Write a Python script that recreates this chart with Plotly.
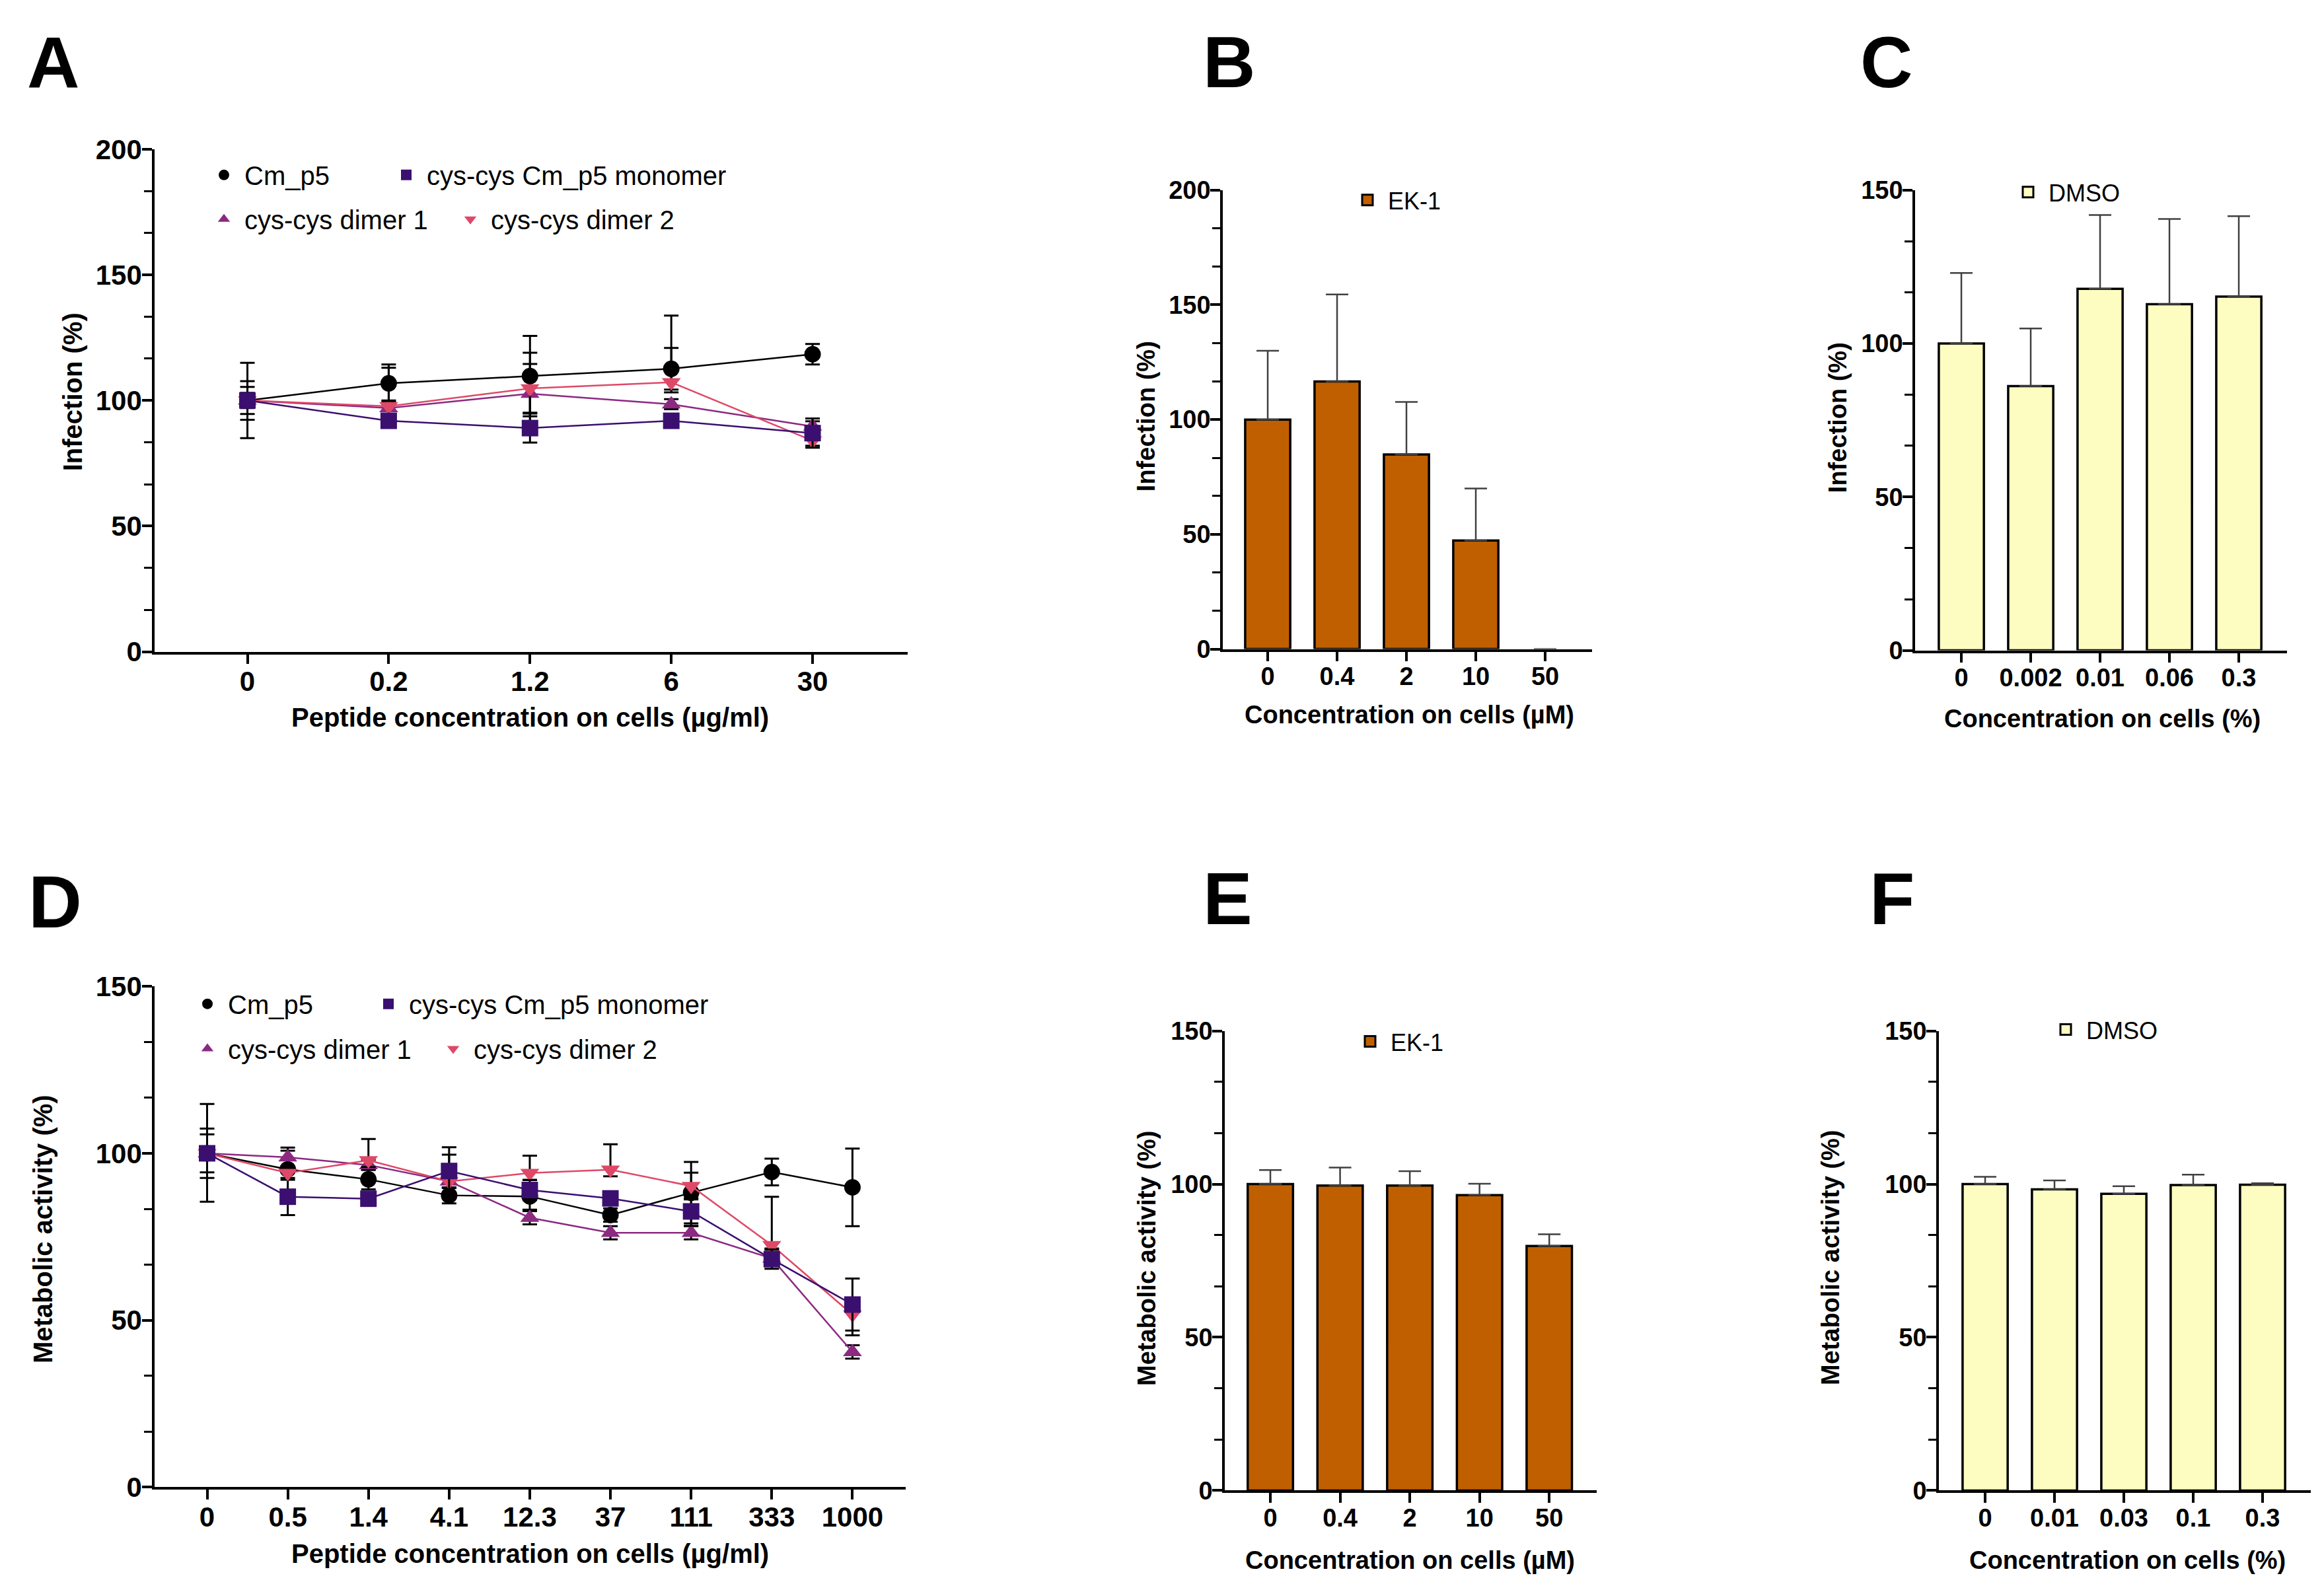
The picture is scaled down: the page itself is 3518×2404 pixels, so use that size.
import plotly.graph_objects as go

# ---------------- DATA ----------------
# Panel A: Infection (%) vs peptide concentration (ug/ml)
a_cats = ["0", "0.2", "1.2", "6", "30"]
a_cm_p5 = [100, 106.8, 109.7, 112.6, 118.4]
a_cm_p5_ep = [15, 7.5, 16, 8.3, 4.1]
a_cm_p5_em = [15, 7.3, 16, 8.3, 4.1]
a_mono = [100, 91.9, 89.0, 91.9, 87.0]
a_mono_ep = [7.7, 2, 5.8, 1.5, 5.8]
a_mono_em = [7.7, 2, 5.8, 1.5, 5.8]
a_dim1 = [100, 97.0, 102.7, 98.5, 89.7]
a_dim1_ep = [5.4, 3, 16.3, 2, 2]
a_dim1_em = [5.4, 3, 16.3, 2, 2]
a_dim2 = [100, 97.7, 104.8, 107.2, 84.0]
a_dim2_ep = [3, 15.3, 9.7, 26.6, 2]
a_dim2_em = [3, 3, 9.7, 4, 2]

# Panel B: EK-1 infection
b_cats = ["0", "0.4", "2", "10", "50"]
b_vals = [100, 116.6, 84.8, 47.3, 0]
b_err = [30, 37.9, 22.9, 22.7, 0]

# Panel C: DMSO infection
c_cats = ["0", "0.002", "0.01", "0.06", "0.3"]
c_vals = [100, 86.1, 117.8, 112.8, 115.3]
c_err = [23, 18.8, 24.1, 27.8, 26.2]

# Panel D: Metabolic activity (%) vs peptide concentration (ug/ml)
d_cats = ["0", "0.5", "1.4", "4.1", "12.3", "37", "111", "333", "1000"]
d_cm_p5 = [100, 95.2, 92.2, 87.4, 87.1, 81.5, 88.2, 94.4, 89.8]
d_cm_p5_ep = [14.8, 6.5, 3, 2.4, 4, 2, 9.2, 4, 11.6]
d_cm_p5_em = [14.5, 6.5, 3, 2.4, 4, 2, 9.2, 4, 11.6]
d_mono = [100, 87.0, 86.4, 94.7, 89.0, 86.5, 82.6, 68.3, 54.7]
d_mono_ep = [7.4, 2, 1.5, 7.1, 3, 2, 4, 2.9, 7.8]
d_mono_em = [7.4, 5.5, 1.5, 7.1, 3, 2, 4.3, 2.9, 7.8]
d_dim1 = [100, 98.8, 96.5, 91.6, 80.7, 76.2, 76.2, 68.5, 40.5]
d_dim1_ep = [5.7, 2, 1.5, 2, 2, 2, 2, 2, 2]
d_dim1_em = [5.7, 6.2, 1.5, 2, 2, 2, 2, 2, 2]
d_dim2 = [100, 94.1, 97.9, 91.6, 94.1, 95.1, 90.2, 72.5, 51.7]
d_dim2_ep = [2, 2, 6.4, 8, 5.2, 7.6, 4, 14.5, 3]
d_dim2_em = [2, 2, 2, 2, 2, 2, 4, 1, 6.2]

# Panel E: EK-1 metabolic activity
e_cats = ["0", "0.4", "2", "10", "50"]
e_vals = [100, 99.5, 99.5, 96.4, 79.8]
e_err = [4.6, 5.9, 4.7, 3.7, 3.8]

# Panel F: DMSO metabolic activity
f_cats = ["0", "0.01", "0.03", "0.1", "0.3"]
f_vals = [100, 98.3, 96.8, 99.7, 99.8]
f_err = [2.4, 2.9, 2.5, 3.4, 0.5]

# ---------------- STYLE ----------------
FONT = "Liberation Sans"
C_CM = "#000000"
C_MONO = "#3B0F70"
C_DIM1 = "#8C2981"
C_DIM2 = "#DE4968"
C_EK1 = "#C05F00"
C_DMSO = "#FDFDC2"
W, H = 3518, 2404


def px(x):
    return (x - 6) / W


def py(y):
    return 1 - (y * 1.0182 - 28.3) / H


fig = go.Figure()


def line_trace(cats, vals, ep, em, name, color, symbol, xa, ya):
    return go.Scatter(
        x=cats, y=vals, name=name, mode="lines+markers", showlegend=False,
        line=dict(color=color, width=2.5),
        marker=dict(color=color, symbol=symbol, size=25, line=dict(width=0)),
        error_y=dict(type="data", array=ep, arrayminus=em, symmetric=False,
                     color="black", thickness=3, width=11),
        xaxis=xa, yaxis=ya, cliponaxis=False,
    )


def legend_entry(name, color, symbol, xa, ya, legend, outline=0):
    return go.Scatter(
        x=[None], y=[None], name=name, mode="markers", showlegend=True,
        marker=dict(color=color, symbol=symbol, size=16,
                    line=dict(width=outline, color="black")),
        xaxis=xa, yaxis=ya, legend=legend, hoverinfo="skip",
    )


# Panel A traces
fig.add_trace(line_trace(a_cats, a_cm_p5, a_cm_p5_ep, a_cm_p5_em, "Cm_p5", C_CM, "circle", "x", "y"))
fig.add_trace(line_trace(a_cats, a_dim1, a_dim1_ep, a_dim1_em, "cys-cys dimer 1", C_DIM1, "triangle-up", "x", "y"))
fig.add_trace(line_trace(a_cats, a_dim2, a_dim2_ep, a_dim2_em, "cys-cys dimer 2", C_DIM2, "triangle-down", "x", "y"))
fig.add_trace(line_trace(a_cats, a_mono, a_mono_ep, a_mono_em, "cys-cys Cm_p5 monomer", C_MONO, "square", "x", "y"))
fig.add_trace(legend_entry("Cm_p5", C_CM, "circle", "x", "y", "legend"))
fig.add_trace(legend_entry("cys-cys Cm_p5 monomer", C_MONO, "square", "x", "y", "legend2"))
fig.add_trace(legend_entry("cys-cys dimer 1", C_DIM1, "triangle-up", "x", "y", "legend3"))
fig.add_trace(legend_entry("cys-cys dimer 2", C_DIM2, "triangle-down", "x", "y", "legend4"))

# Panel D traces
fig.add_trace(line_trace(d_cats, d_cm_p5, d_cm_p5_ep, d_cm_p5_em, "Cm_p5", C_CM, "circle", "x4", "y4"))
fig.add_trace(line_trace(d_cats, d_dim1, d_dim1_ep, d_dim1_em, "cys-cys dimer 1", C_DIM1, "triangle-up", "x4", "y4"))
fig.add_trace(line_trace(d_cats, d_dim2, d_dim2_ep, d_dim2_em, "cys-cys dimer 2", C_DIM2, "triangle-down", "x4", "y4"))
fig.add_trace(line_trace(d_cats, d_mono, d_mono_ep, d_mono_em, "cys-cys Cm_p5 monomer", C_MONO, "square", "x4", "y4"))
fig.add_trace(legend_entry("Cm_p5", C_CM, "circle", "x4", "y4", "legend5"))
fig.add_trace(legend_entry("cys-cys Cm_p5 monomer", C_MONO, "square", "x4", "y4", "legend6"))
fig.add_trace(legend_entry("cys-cys dimer 1", C_DIM1, "triangle-up", "x4", "y4", "legend7"))
fig.add_trace(legend_entry("cys-cys dimer 2", C_DIM2, "triangle-down", "x4", "y4", "legend8"))


def bar_trace(cats, vals, err, name, color, xa, ya):
    return go.Bar(
        x=cats, y=vals, name=name, width=0.65, showlegend=False,
        marker=dict(color=color,
                    line=dict(color="black", width=[3.5 if v > 0 else 0 for v in vals])),
        error_y=dict(type="data", array=err, arrayminus=[0] * len(err), symmetric=False,
                     color="#404040", thickness=2.5, width=17),
        xaxis=xa, yaxis=ya,
    )


fig.add_trace(bar_trace(b_cats, b_vals, b_err, "EK-1", C_EK1, "x2", "y2"))
fig.add_trace(bar_trace(c_cats, c_vals, c_err, "DMSO", C_DMSO, "x3", "y3"))
fig.add_trace(bar_trace(e_cats, e_vals, e_err, "EK-1", C_EK1, "x5", "y5"))
fig.add_trace(bar_trace(f_cats, f_vals, f_err, "DMSO", C_DMSO, "x6", "y6"))
fig.add_trace(legend_entry("EK-1", C_EK1, "square", "x2", "y2", "legend9", outline=3))
fig.add_trace(legend_entry("DMSO", C_DMSO, "square", "x3", "y3", "legend10", outline=3))
fig.add_trace(legend_entry("EK-1", C_EK1, "square", "x5", "y5", "legend11", outline=3))
fig.add_trace(legend_entry("DMSO", C_DMSO, "square", "x6", "y6", "legend12", outline=3))

# ---------------- AXES ----------------
panels = {
    # key: (xdomain px, ydomain px (top, bottom), xrange, yrange, tick font size)
    "1": ((232, 1372), (223, 985), [-0.657, 4.673], [0, 200], 42),
    "2": ((1849, 2408), (285, 981), [-0.648, 4.676], [0, 200], 38),
    "3": ((2897, 3460), (285, 983), [-0.667, 4.695], [0, 150], 38),
    "4": ((232, 1369), (1492.5, 2252), [-0.651, 8.66], [0, 150], 42),
    "5": ((1852, 2415), (1560, 2257), [-0.654, 4.68], [0, 150], 38),
    "6": ((2933, 3496), (1560, 2257), [-0.667, 4.695], [0, 150], 38),
}

axes = {}
for k, (xd, yd, xr, yr, fs) in panels.items():
    xname = "xaxis" if k == "1" else f"xaxis{k}"
    yname = "yaxis" if k == "1" else f"yaxis{k}"
    anchor_x = "x" if k == "1" else f"x{k}"
    anchor_y = "y" if k == "1" else f"y{k}"
    tickfont = dict(family=FONT, size=fs, color="black", weight="bold")
    axes[xname] = dict(
        domain=[px(xd[0]), px(xd[1])], anchor=anchor_y, type="category",
        range=xr, showline=True, linecolor="black", linewidth=3.5,
        ticks="outside", ticklen=15, tickwidth=3.5, tickcolor="black",
        ticklabelstandoff=-10,
        showgrid=False, zeroline=False, tickfont=tickfont, fixedrange=True,
    )
    axes[yname] = dict(
        domain=[py(yd[1]), py(yd[0])], anchor=anchor_x, range=yr,
        tickmode="linear", tick0=0, dtick=50,
        showline=True, linecolor="black", linewidth=3.5,
        ticks="outside", ticklen=15, tickwidth=3.5, tickcolor="black",
        ticklabelstandoff=-8,
        minor=dict(dtick=50 / 3, tick0=0, ticks="outside", ticklen=12,
                   tickwidth=3, tickcolor="black", showgrid=False),
        showgrid=False, zeroline=False, tickfont=tickfont, fixedrange=True,
    )
fig.update_layout(**axes)

# ---------------- LEGENDS ----------------
def legend_at(mx, my, size):
    return dict(x=px(mx - 36), y=py(my), xanchor="left", yanchor="middle",
                bgcolor="rgba(0,0,0,0)", borderwidth=0, itemwidth=52,
                font=dict(family=FONT, size=size, color="black"))


fig.update_layout(
    legend=legend_at(342, 262, 40),
    legend2=legend_at(618, 262, 40),
    legend3=legend_at(342, 329, 40),
    legend4=legend_at(715, 329, 40),
    legend5=legend_at(317, 1519, 40),
    legend6=legend_at(591, 1519, 40),
    legend7=legend_at(317, 1587, 40),
    legend8=legend_at(689, 1587, 40),
    legend9=legend_at(2073, 300, 36),
    legend10=legend_at(3073, 288, 36),
    legend11=legend_at(2077, 1576, 36),
    legend12=legend_at(3130, 1558, 36),
)

# ---------------- TEXT ----------------
annotations = []


def ann(text, x, y, size, angle=0, bold=True, top=False):
    annotations.append(dict(
        text=text, x=px(x), y=1 if top else py(y), xref="paper", yref="paper",
        xanchor="center", yanchor="top" if top else "middle", showarrow=False,
        textangle=angle, borderpad=0,
        font=dict(family=FONT, size=size, color="black", weight="bold" if bold else "normal"),
    ))


# panel letters (top row pinned to the top edge so they are not clipped)
ann("A", 78, 0, 110, top=True)
ann("B", 1859, 0, 110, top=True)
ann("C", 2853, 0, 110, top=True)
ann("D", 81, 1365, 112)
ann("E", 1856, 1360, 112)
ann("F", 2862, 1360, 112)

# axis titles
ann("Peptide concentration on cells (µg/ml)", 800, 1085, 40)
ann("Infection (%)", 108, 591, 40, angle=-90)
ann("Concentration on cells (µM)", 2131, 1081, 38)
ann("Infection (%)", 1733, 628, 38, angle=-90)
ann("Concentration on cells (%)", 3180, 1087, 38)
ann("Infection (%)", 2780, 630, 38, angle=-90)
ann("Peptide concentration on cells (µg/ml)", 800, 2353, 40)
ann("Metabolic activity (%)", 63, 1861, 40, angle=-90)
ann("Concentration on cells (µM)", 2132, 2363, 38)
ann("Metabolic activity (%)", 1734, 1905, 38, angle=-90)
ann("Concentration on cells (%)", 3218, 2363, 38)
ann("Metabolic activity (%)", 2769, 1904, 38, angle=-90)

fig.update_layout(
    annotations=annotations,
    width=W, height=H, margin=dict(l=0, r=0, t=0, b=0),
    paper_bgcolor="white", plot_bgcolor="white",
    barmode="group", showlegend=True,
    font=dict(family=FONT, color="black"),
)

fig.write_html("out.html")
